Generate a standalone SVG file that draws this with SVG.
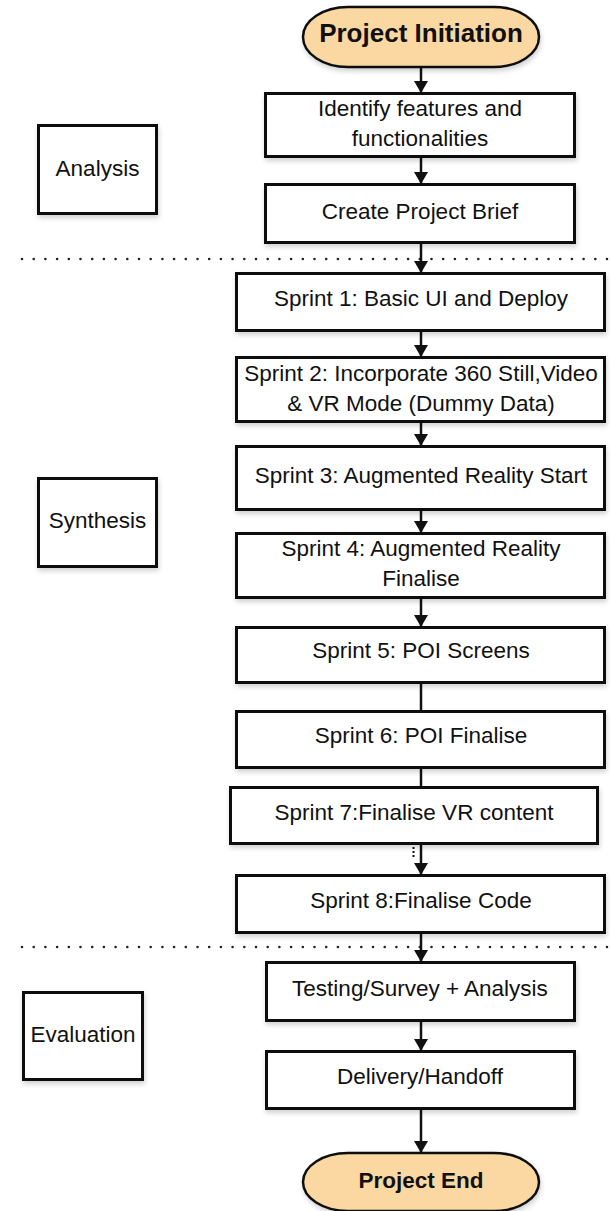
<svg xmlns="http://www.w3.org/2000/svg" width="610" height="1211" viewBox="0 0 610 1211">
  <style>
    .box { fill: #ffffff; stroke: #111111; stroke-width: 3; filter: url(#shadow); }
    .term { fill: #FBD8A2; stroke: #111111; stroke-width: 2.5; filter: url(#shadow); }
    .label { font-family: "Liberation Sans", Arial, sans-serif; font-size: 22.5px; fill: #111111; text-anchor: middle; dominant-baseline: central; }
    .title { font-family: "Liberation Sans", Arial, sans-serif; font-weight: bold; fill: #111111; text-anchor: middle; dominant-baseline: central; }
    .edge { stroke: #111111; stroke-width: 2.5; fill: none; }
    .arrow { marker-end: url(#head); }
    .divider { stroke: #222222; stroke-width: 2.6; stroke-linecap: round; stroke-dasharray: 0 11.7; fill: none; }
  </style>
  <defs>
    <marker id="head" viewBox="0 0 12 14" refX="12" refY="7" markerWidth="12" markerHeight="14" markerUnits="userSpaceOnUse" orient="auto">
      <path d="M0,0 L12,7 L0,14 Z" fill="#111111"/>
    </marker>
    <filter id="shadow" x="-10%" y="-10%" width="125%" height="135%">
      <feDropShadow dx="1" dy="3" stdDeviation="2.5" flood-color="#000000" flood-opacity="0.18"/>
    </filter>
  </defs>

  <rect width="610" height="1211" fill="#ffffff"/>

  <!-- phase dividers -->
  <g id="dividers">
    <line class="divider" x1="22" y1="259" x2="610" y2="259"/>
    <line class="divider" x1="22" y1="947" x2="610" y2="947"/>
  </g>

  <!-- connectors -->
  <g id="connectors">
    <line class="edge arrow" x1="421" y1="67" x2="421" y2="93"/>
    <line class="edge arrow" x1="421" y1="157" x2="421" y2="184"/>
    <line class="edge arrow" x1="421" y1="243" x2="421" y2="273"/>
    <line class="edge arrow" x1="421" y1="331" x2="421" y2="357"/>
    <line class="edge arrow" x1="421" y1="422" x2="421" y2="446"/>
    <line class="edge arrow" x1="421" y1="510" x2="421" y2="533"/>
    <line class="edge arrow" x1="421" y1="598" x2="421" y2="627"/>
    <line class="edge" x1="421" y1="683" x2="421" y2="711"/>
    <line class="edge" x1="421" y1="768" x2="421" y2="787"/>
    <line class="edge arrow" x1="421" y1="844" x2="421" y2="875"/>
    <line x1="413.5" y1="847" x2="413.5" y2="859" stroke="#111111" stroke-width="2" stroke-dasharray="2 2"/>
    <line class="edge arrow" x1="421" y1="933" x2="421" y2="962"/>
    <line class="edge arrow" x1="421" y1="1021" x2="421" y2="1051"/>
    <line class="edge arrow" x1="421" y1="1109" x2="421" y2="1153"/>
  </g>

  <!-- phase labels -->
  <g id="phase-analysis">
    <rect class="box" x="38.5" y="125.5" width="118" height="88"/>
    <text class="label" x="97.5" y="168">Analysis</text>
  </g>
  <g id="phase-synthesis">
    <rect class="box" x="38.5" y="478.5" width="118" height="88"/>
    <text class="label" x="97.5" y="520">Synthesis</text>
  </g>
  <g id="phase-evaluation">
    <rect class="box" x="23.5" y="992.5" width="119" height="87"/>
    <text class="label" x="83" y="1034">Evaluation</text>
  </g>

  <!-- flow nodes -->
  <g id="project-initiation">
    <rect class="term" x="303" y="7" width="236" height="60" rx="45" ry="30"/>
    <text class="title" x="421" y="33" font-size="26">Project Initiation</text>
  </g>
  <g id="identify-features">
    <rect class="box" x="265.5" y="93.5" width="309" height="63"/>
    <text class="label" x="420" y="108">Identify features and</text>
    <text class="label" x="420" y="138">functionalities</text>
  </g>
  <g id="create-brief">
    <rect class="box" x="265.5" y="184.5" width="309" height="58"/>
    <text class="label" x="420" y="211">Create Project Brief</text>
  </g>
  <g id="sprint-1">
    <rect class="box" x="236.5" y="273.5" width="368" height="57"/>
    <text class="label" x="421" y="298">Sprint 1: Basic UI and Deploy</text>
  </g>
  <g id="sprint-2">
    <rect class="box" x="236.5" y="357.5" width="368" height="64"/>
    <text class="label" x="421" y="373">Sprint 2: Incorporate 360 Still,Video</text>
    <text class="label" x="421" y="403">&amp; VR Mode (Dummy Data)</text>
  </g>
  <g id="sprint-3">
    <rect class="box" x="236.5" y="446.5" width="368" height="63"/>
    <text class="label" x="421" y="475">Sprint 3: Augmented Reality Start</text>
  </g>
  <g id="sprint-4">
    <rect class="box" x="236.5" y="533.5" width="368" height="64"/>
    <text class="label" x="421" y="548">Sprint 4: Augmented Reality</text>
    <text class="label" x="421" y="578">Finalise</text>
  </g>
  <g id="sprint-5">
    <rect class="box" x="236.5" y="627.5" width="368" height="55"/>
    <text class="label" x="421" y="650">Sprint 5: POI Screens</text>
  </g>
  <g id="sprint-6">
    <rect class="box" x="236.5" y="711.5" width="368" height="56"/>
    <text class="label" x="421" y="735">Sprint 6: POI Finalise</text>
  </g>
  <g id="sprint-7">
    <rect class="box" x="230.5" y="787.5" width="367" height="56"/>
    <text class="label" x="414" y="812">Sprint 7:Finalise VR content</text>
  </g>
  <g id="sprint-8">
    <rect class="box" x="236.5" y="875.5" width="368" height="57"/>
    <text class="label" x="421" y="900">Sprint 8:Finalise Code</text>
  </g>
  <g id="testing">
    <rect class="box" x="266.5" y="962.5" width="308" height="58"/>
    <text class="label" x="420" y="988">Testing/Survey + Analysis</text>
  </g>
  <g id="delivery">
    <rect class="box" x="266.5" y="1051.5" width="308" height="57"/>
    <text class="label" x="420" y="1076">Delivery/Handoff</text>
  </g>
  <g id="project-end">
    <rect class="term" x="303" y="1153" width="236" height="58" rx="45" ry="29"/>
    <text class="title" x="421" y="1180" font-size="22.5">Project End</text>
  </g>
</svg>
